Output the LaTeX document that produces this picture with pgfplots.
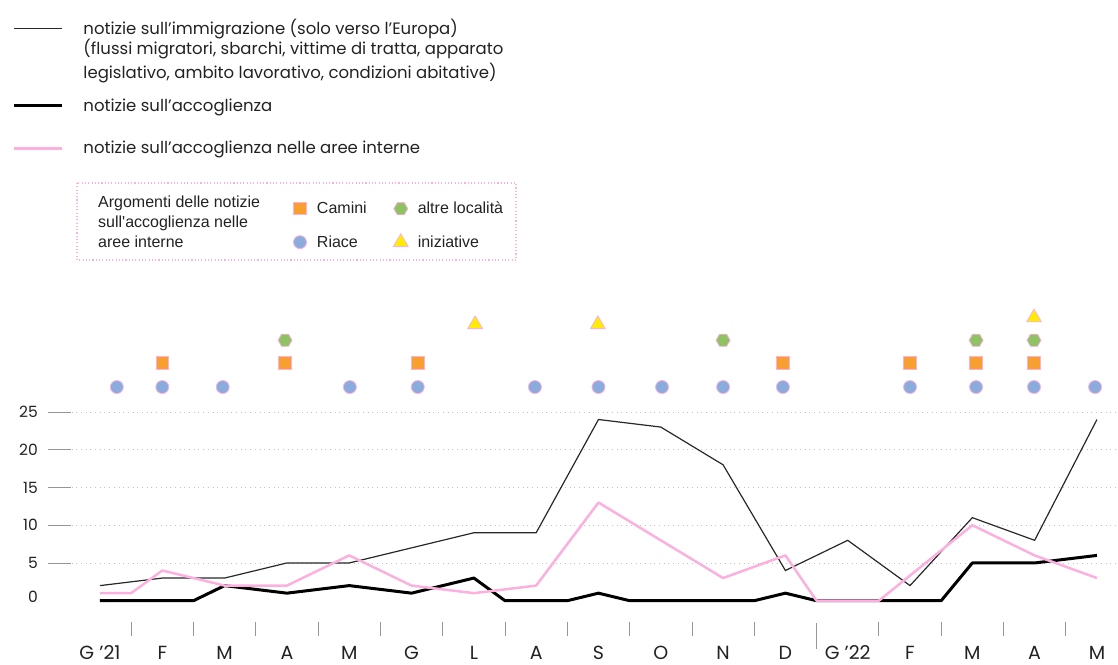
\documentclass[border=0pt]{standalone}
\usepackage{fontspec}
\setmainfont{Poppins}
\newfontfamily\boxfont{Liberation Sans}
\usepackage{pgfplots}
\pgfplotsset{compat=1.18}

\definecolor{lpink}{RGB}{252,176,222}
\definecolor{riace}{RGB}{138,172,220}
\definecolor{camini}{RGB}{247,160,48}
\definecolor{altre}{RGB}{142,194,98}
\definecolor{iniz}{RGB}{255,236,0}
\definecolor{tickgray}{RGB}{150,150,150}
\definecolor{gridgray}{RGB}{195,195,195}
\definecolor{thinline}{RGB}{40,40,40}
\definecolor{txt}{RGB}{34,34,34}

% hexagon with flat top and bottom
\pgfdeclareplotmark{hexagon}{%
  \pgfpathmoveto{\pgfqpoint{\pgfplotmarksize}{0pt}}%
  \pgfpathlineto{\pgfqpoint{0.5\pgfplotmarksize}{0.866\pgfplotmarksize}}%
  \pgfpathlineto{\pgfqpoint{-0.5\pgfplotmarksize}{0.866\pgfplotmarksize}}%
  \pgfpathlineto{\pgfqpoint{-\pgfplotmarksize}{0pt}}%
  \pgfpathlineto{\pgfqpoint{-0.5\pgfplotmarksize}{-0.866\pgfplotmarksize}}%
  \pgfpathlineto{\pgfqpoint{0.5\pgfplotmarksize}{-0.866\pgfplotmarksize}}%
  \pgfpathclose
  \pgfusepathqfillstroke}

\pgfplotsset{
  riacemark/.style={only marks, mark=*, mark size=6.5pt,
    mark options={fill=riace, draw=lpink, line width=0.8pt}},
  caminimark/.style={only marks, mark=square*, mark size=6.2pt,
    mark options={fill=camini, draw=lpink, line width=0.8pt}},
  altremark/.style={only marks, mark=hexagon, mark size=7pt,
    mark options={fill=altre, draw=lpink, line width=0.8pt}},
  inizmark/.style={only marks, mark=triangle*, mark size=8.5pt,
    mark options={fill=iniz, draw=lpink, line width=0.8pt}},
}

% strut: depth #1pt below the baseline, height #2pt above it
\newcommand{\lstrut}[2]{\rule[-#1pt]{0pt}{\dimexpr#1pt+#2pt\relax}}

\begin{document}
\begin{tikzpicture}
\useasboundingbox (0,0) rectangle (1118pt,664pt);

\begin{axis}[
  at={(48pt,28pt)}, anchor=south west,
  scale only axis, width=1070pt, height=336pt,
  xmin=-0.8345, xmax=16.338, ymin=-4.675, ymax=39.83,
  clip=false,
  axis line style={draw=none},
  xtick pos=left, ytick pos=left,
  xtick={0,...,16},
  xticklabels={G ’21,F,M,A,M,G,L,A,S,O,N,D,G ’22,F,M,A,M},
  minor xtick={0.5,1.5,2.5,3.5,4.5,5.5,6.5,7.5,8.5,9.5,10.5,12.5,13.5,14.5,15.5},
  extra x ticks={11.5},
  extra x tick labels={},
  extra x tick style={major x tick style={draw=tickgray, line width=0.8pt},
    tick align=center, major tick length=26pt},
  ytick={5,10,15,20,25},
  extra y ticks={0},
  extra y tick style={major tick length=0pt, grid=none,
    yticklabel style={yshift=4pt}},
  major tick length=23pt, minor tick length=14pt,
  major x tick style={draw=none},
  minor x tick style={draw=tickgray, line width=0.8pt},
  major y tick style={draw=tickgray, line width=0.8pt},
  ymajorgrids,
  major grid style={gridgray, line width=0.8pt, dash pattern=on 0.8pt off 3.9pt},
  /pgf/number format/assume math mode=true,
  yticklabel style={anchor=east, inner sep=0pt, xshift=-10pt,
    font=\fontsize{15.5}{18}\selectfont, text=txt},
  xticklabel style={anchor=base, inner sep=0pt, yshift=-23.5pt,
    font=\fontsize{19}{22}\selectfont, text=txt},
  legend cell align=left,
  legend style={draw=none, fill=none, inner sep=0pt, outer sep=0pt,
    row sep=0pt, column sep=0pt,
    cells={anchor=base west},
    nodes={inner sep=0pt, text=txt, font=\fontsize{16.5}{24}\selectfont},
    at={(axis description cs:-0.03271,1.83720)}, anchor=north west},
  legend image code/.code={%
    \path[draw=none] (0pt,0pt) -- (69pt,0pt);
    \draw[#1] (0pt,5.5pt) -- (48pt,5.5pt);},
]

% notizie sull'immigrazione
\addplot[thinline, line width=1.2pt] coordinates {
  (0,2) (1,3) (2,3) (3,5) (4,5) (5,7) (6,9) (7,9) (8,24)
  (9,23) (10,18) (11,4) (12,8) (13,2) (14,11) (15,8) (16,24)
};
\addlegendentry{\lstrut{6}{14}notizie sull’immigrazione (solo verso l’Europa)}
\addlegendimage{empty legend}
\addlegendentry{\lstrut{6}{19.1}(flussi migratori, sbarchi, vittime di tratta, apparato}
\addlegendimage{empty legend}
\addlegendentry{\lstrut{6}{22.7}legislativo, ambito lavorativo, condizioni abitative)}

% notizie sull'accoglienza
\addplot[black, line width=3pt, line join=round] coordinates {
  (0,0) (1.5,0) (2,2) (3,1) (4,2) (5,1) (6,3) (6.5,0) (7.5,0) (8,1)
  (8.5,0) (10.5,0) (11,1) (11.5,0) (13.5,0) (14,5) (15,5) (16,6)
};
\addlegendentry{\lstrut{6}{30.7}notizie sull’accoglienza}

% notizie sull'accoglienza nelle aree interne
\addplot[lpink, line width=2.5pt, line join=round] coordinates {
  (0,1) (0.5,1) (1,4) (2,2) (3,2) (4,6) (5,2) (6,1) (7,2) (8,13)
  (10,3) (11,6) (11.5,0) (12.5,0) (14,10) (15,6) (16,3)
};
\addlegendentry{\lstrut{6}{41.3}notizie sull’accoglienza nelle aree interne}

% argomenti
\addplot[riacemark, forget plot] coordinates {
  (0.27,28.3) (1,28.3) (1.97,28.3) (4.01,28.3) (5.1,28.3) (6.98,28.3)
  (8,28.3) (9.02,28.3) (10,28.3) (10.96,28.3) (13,28.3) (14.06,28.3)
  (14.99,28.3) (15.97,28.3)
};
\addplot[caminimark, forget plot] coordinates {
  (1,31.5) (2.97,31.5) (5.1,31.5) (10.96,31.5) (13,31.5) (14.06,31.5) (14.99,31.5)
};
\addplot[altremark, forget plot] coordinates {
  (2.97,34.5) (10,34.5) (14.06,34.5) (14.99,34.5)
};
\addplot[inizmark, forget plot] coordinates {
  (6.02,36.6) (7.99,36.6) (14.99,37.5)
};
\end{axis}

% box of the topics legend
\draw[lpink, line width=1.1pt, dash pattern=on 1.1pt off 2.2pt]
  (77pt,481pt) rectangle (516pt,404pt);
\begin{scope}[every node/.style={anchor=base west, inner sep=0pt, text=txt,
    font=\boxfont\fontsize{16}{19}\selectfont}]
  \node at (98pt,456pt) {Argomenti delle notizie};
  \node at (98pt,436.3pt) {sull\textquotesingle accoglienza nelle};
  \node at (98pt,416.5pt) {aree interne};
\end{scope}

\begin{axis}[
  at={(0pt,0pt)}, anchor=south west,
  scale only axis, width=1118pt, height=664pt,
  xmin=0, xmax=1, ymin=0, ymax=1, hide axis,
  legend columns=2,
  legend cell align=left,
  legend style={draw=none, fill=none, inner sep=0pt, outer sep=0pt,
    row sep=17pt, column sep=0pt,
    cells={anchor=base west},
    nodes={inner sep=0pt, text=txt, font=\boxfont\fontsize{16}{19}\selectfont},
    at={(axis description cs:0.23792,0.70075)}, anchor=north west},
  legend image code/.code={%
    \path[draw=none] (-34pt,0pt) -- (17pt,0pt);
    \draw[#1] plot coordinates {(0pt,5pt)};},
]
\addlegendimage{caminimark}
\addlegendentry{\lstrut{5}{15}Camini}
\addlegendimage{altremark}
\addlegendentry{\lstrut{5}{15}altre località}
\addlegendimage{riacemark}
\addlegendentry{\lstrut{5}{15}Riace}
\addlegendimage{inizmark}
\addlegendentry{\lstrut{5}{15}iniziative}
\end{axis}
\end{tikzpicture}
\end{document}
